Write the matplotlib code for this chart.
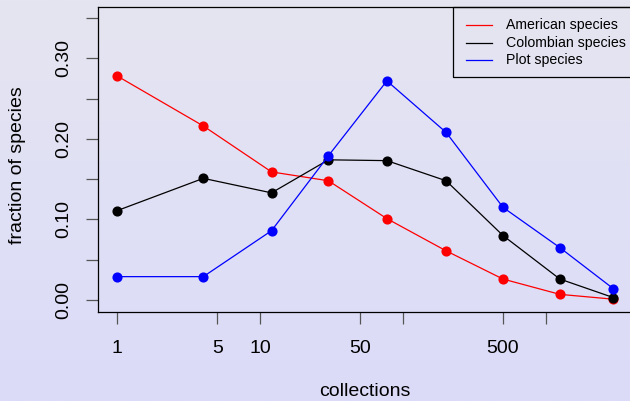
import numpy as np
import matplotlib
matplotlib.use("Agg")
import matplotlib.pyplot as plt
from matplotlib.patches import Rectangle

plt.rcParams['font.family'] = ['Liberation Sans', 'DejaVu Sans']

# Number of collections per species (bin centres, log scale)
collections = [1, 4, 12, 30, 77, 200, 500, 1250, 2960]

american = [0.278, 0.216, 0.159, 0.148, 0.101, 0.061, 0.026, 0.007, 0.001]
colombian = [0.111, 0.151, 0.133, 0.174, 0.173, 0.148, 0.080, 0.026, 0.003]
plot_sp = [0.029, 0.029, 0.086, 0.179, 0.272, 0.208, 0.115, 0.065, 0.014]

series_names = ["American species", "Colombian species", "Plot species"]
series_colors = ["#FF0000", "#000000", "#0000FF"]

x_ticks = [1, 5, 10, 50, 100, 500, 1000]
x_ticklabels = ["1", "5", "10", "50", "", "500", ""]
y_ticks = [0.00, 0.05, 0.10, 0.15, 0.20, 0.25, 0.30, 0.35]
y_ticklabels = ["0.00", "", "0.10", "", "0.20", "", "0.30", ""]

W, H = 630, 401
fig = plt.figure(figsize=(W / 100, H / 100), dpi=100)

# vertical gradient background
bg = fig.add_axes([0, 0, 1, 1], zorder=0)
top = np.array([229, 229, 241]) / 255
bot = np.array([219, 219, 249]) / 255
t = np.linspace(0, 1, 256)[:, None]
grad = top[None, :] * (1 - t) + bot[None, :] * t
bg.imshow(grad[:, None, :], aspect='auto', extent=[0, 1, 0, 1])
bg.set_axis_off()

# plot region in pixels
left, right, ytop, ybot = 97.5, 632.9, 7.0, 312.0
ax = fig.add_axes([left / W, (H - ybot) / H, (right - left) / W, (ybot - ytop) / H], zorder=1)
ax.patch.set_alpha(0)


def px_to_axes(px, py):
    return (px - left) / (right - left), (ybot - py) / (ybot - ytop)


data = [american, colombian, plot_sp]
for vals, name, col in zip(data, series_names, series_colors):
    ax.plot(collections, vals, color=col, lw=0.9, marker='o', ms=6.3,
            mec=col, mfc=col, label=name)

ax.set_xscale('log')
ax.set_xlim(10 ** -0.1386, 10 ** 3.608)
ax.set_ylim(-0.0149, 0.3637)

ax.xaxis.set_minor_locator(matplotlib.ticker.NullLocator())
ax.set_xticks(x_ticks)
ax.set_xticklabels(x_ticklabels)
ax.set_yticks(y_ticks)
ax.set_yticklabels(y_ticklabels, rotation=90, va='center')

ax.tick_params(axis='both', direction='out', length=8.4, width=0.9,
               color='#555555', labelsize=14, labelcolor='black')
ax.tick_params(axis='x', pad=12)
ax.tick_params(axis='y', pad=10)

for s in ax.spines.values():
    s.set_linewidth(0.9)
    s.set_color('black')

ax.set_xlabel("collections", fontsize=14, va='center')
ax.xaxis.set_label_coords(0.5, (ybot - 392) / (ybot - ytop))
ax.set_ylabel("fraction of species", fontsize=14, va='center')
ax.yaxis.set_label_coords((18 - left) / (right - left), (ybot - 165) / (ybot - ytop))

# legend box in the top-right corner
x0, y0 = px_to_axes(452.5, 77.3)
x1, y1 = px_to_axes(640, 7.0)
ax.add_patch(Rectangle((x0, y0), x1 - x0, y1 - y0, transform=ax.transAxes,
                       fill=False, edgecolor='black', lw=0.9, clip_on=False, zorder=5))
row_y = [25.0, 42.7, 60.3]
for name, col, ry in zip(series_names, series_colors, row_y):
    lx0, ly = px_to_axes(466, ry)
    lx1, _ = px_to_axes(492, ry)
    ax.plot([lx0, lx1], [ly, ly], transform=ax.transAxes, color=col, lw=0.9,
            clip_on=False, zorder=5)
    tx, _ = px_to_axes(505.7, ry)
    ax.text(tx, ly, name, transform=ax.transAxes, fontsize=10.2, ha='left',
            va='center', zorder=5)

fig.savefig("out.png", dpi=100)
